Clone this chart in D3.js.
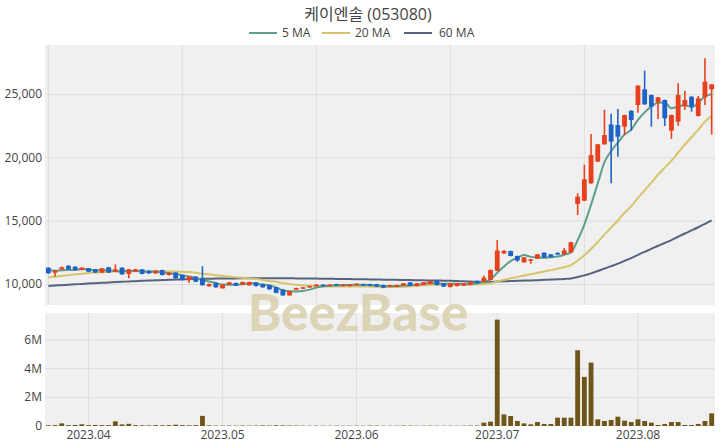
<!DOCTYPE html>
<html><head><meta charset="utf-8">
<script src="https://cdn.jsdelivr.net/npm/d3@7/dist/d3.min.js"></script>
<style>
html,body{margin:0;padding:0;background:#fff;}
svg{display:block;font-family:"Open Sans","Noto Sans","Noto Sans CJK KR",sans-serif;}
</style></head>
<body><div id="chart"></div>
<script>
const title = "케이엔솔 (053080)";
const dates = [
"2023-03-24","2023-03-27","2023-03-28","2023-03-29","2023-03-30","2023-03-31",
"2023-04-03","2023-04-04","2023-04-05","2023-04-06","2023-04-07","2023-04-10","2023-04-11","2023-04-12","2023-04-13","2023-04-14",
"2023-04-17","2023-04-18","2023-04-19","2023-04-20","2023-04-21","2023-04-24","2023-04-25","2023-04-26","2023-04-27","2023-04-28",
"2023-05-02","2023-05-03","2023-05-04","2023-05-08","2023-05-09","2023-05-10","2023-05-11","2023-05-12","2023-05-15","2023-05-16",
"2023-05-17","2023-05-18","2023-05-19","2023-05-22","2023-05-23","2023-05-24","2023-05-25","2023-05-26","2023-05-30","2023-05-31",
"2023-06-01","2023-06-02","2023-06-05","2023-06-07","2023-06-08","2023-06-09","2023-06-12","2023-06-13","2023-06-14","2023-06-15",
"2023-06-16","2023-06-19","2023-06-20","2023-06-21","2023-06-22","2023-06-23","2023-06-26","2023-06-27","2023-06-28","2023-06-29","2023-06-30",
"2023-07-03","2023-07-04","2023-07-05","2023-07-06","2023-07-07","2023-07-10","2023-07-11","2023-07-12","2023-07-13","2023-07-14",
"2023-07-17","2023-07-18","2023-07-19","2023-07-20","2023-07-21","2023-07-24","2023-07-25","2023-07-26","2023-07-27","2023-07-28","2023-07-31",
"2023-08-01","2023-08-02","2023-08-03","2023-08-04","2023-08-07","2023-08-08","2023-08-09","2023-08-10","2023-08-11","2023-08-14","2023-08-16","2023-08-17"
];
const open = [
11290,10890,11160,11450,11370,11110,11240,11160,10900,11320,
10980,11290,10790,10980,11160,11050,10840,11100,10710,10900,
10710,10320,10580,10420,9820,10080,9660,9950,10080,9950,
9900,10130,10000,9900,9740,9550,9100,9550,9660,9740,
9820,9950,9880,9980,9830,9830,9900,9980,9980,9980,
9920,9790,9790,9870,10130,9840,9920,10000,10240,10050,
9760,9840,9870,9920,10240,10180,10320,11050,12420,12600,
12210,11710,11850,12000,12470,12340,12450,12350,12500,16320,
16580,17950,19660,21030,22600,22550,22420,23680,24130,25370,
24920,24340,24530,22110,22820,24050,24790,23260,24740,25370];
const high = [
11320,11100,11380,11470,11400,11320,11260,11190,11260,11350,
11550,11320,11180,11200,11180,11080,11080,11130,10930,10930,
10740,10600,10610,11400,10030,10110,9980,10160,10110,10190,
10190,10160,10030,9930,9770,9580,9450,9710,9770,9870,
9980,9980,9980,10010,9980,9980,10040,10010,10010,10010,
9950,9950,9950,10080,10160,10080,10160,10270,10270,10080,
10080,10080,10080,10160,10270,10660,11150,13470,12680,12630,
12240,12130,11980,12370,12500,12370,12520,12850,13330,17160,
19420,21840,21060,23760,23450,23820,23370,23710,25690,26840,
24950,24770,24560,23370,25840,25260,24820,24840,27820,25790];
const low = [
10800,10600,11120,11130,11080,11080,10940,10870,10870,10870,
10950,10730,10450,10950,10760,10810,10810,10680,10680,10420,
10290,10100,10150,9870,9790,9710,9630,9920,9840,9920,
9870,9810,9710,9550,9270,9070,9070,9520,9630,9710,
9790,9830,9850,9870,9800,9800,9870,9840,9820,9760,
9680,9760,9760,9840,9840,9810,9890,9970,9890,9760,
9730,9810,9840,9890,10020,10150,10290,11000,12370,12180,
11760,11680,11600,11970,12050,12100,12310,12320,12470,15450,
16550,17920,19630,21000,17950,20050,21760,22100,23530,24150,
22420,23030,22470,21450,22500,23740,23600,23230,24130,21800];
const close = [
10850,11050,11320,11160,11110,11290,10970,10900,11240,10900,
11160,10760,11160,11160,10790,10840,11050,10710,10900,10450,
10320,10580,10180,9900,10000,9740,9950,10130,9870,10160,
10160,9840,9740,9580,9300,9100,9420,9680,9740,9840,
9950,9860,9950,9900,9950,9950,10010,9870,9850,9790,
9710,9920,9920,10050,9870,10050,10130,10240,9920,9790,
10050,10050,10050,10130,10050,10500,11100,12650,12600,12210,
11850,12100,11950,12340,12080,12130,12340,12650,13300,16900,
18260,20180,21030,21760,21240,21630,23340,22950,25660,24180,
24000,24740,23080,23340,24920,24530,24000,24660,25970,25760];
const volume = [
50000,60000,180000,60000,70000,120000,60000,70000,60000,60000,
320000,110000,150000,60000,50000,40000,60000,50000,60000,90000,
60000,50000,60000,700000,40000,30000,25000,30000,25000,30000,
25000,30000,40000,30000,50000,40000,35000,30000,25000,20000,
25000,20000,20000,25000,20000,20000,25000,20000,30000,25000,
20000,20000,20000,30000,25000,20000,20000,25000,20000,20000,
20000,20000,25000,30000,30000,230000,300000,7360000,800000,690000,
345000,180000,115000,275000,140000,140000,575000,575000,575000,5240000,
3400000,4390000,460000,345000,414000,644000,368000,275000,460000,345000,
230000,70000,140000,275000,275000,70000,70000,140000,345000,875000];
const ma5 = [
11100,11050,11080,11100,11098,11186,11170,11086,11102,11060,
11034,10992,11044,11028,11006,10942,11000,10910,10858,10790,
10686,10592,10486,10286,10196,10080,9954,9944,9938,9970,
10054,10032,9954,9896,9724,9512,9428,9416,9448,9556,
9726,9814,9868,9900,9922,9922,9952,9936,9926,9894,
9846,9828,9838,9878,9894,9962,10004,10068,10042,10026,
10026,10010,9972,10014,10066,10156,10366,10886,11380,11812,
12082,12282,12142,12090,12064,12120,12168,12308,12500,13464,
14690,16258,17934,19626,20494,21168,21800,22184,22964,23552,
24026,24306,24332,23868,24016,24122,23974,24290,24816,24984];
const ma20 = [
10520,10580,10640,10700,10760,10810,10860,10900,10930,10960,
10980,10990,11000,11000,11000,11000,11000,10995,10990,10989,
10962,10939,10882,10819,10763,10686,10635,10596,10528,10491,
10441,10395,10324,10245,10170,10083,10002,9950,9892,9862,
9843,9807,9796,9796,9793,9804,9807,9794,9793,9774,
9752,9756,9765,9788,9817,9864,9900,9928,9937,9934,
9939,9949,9954,9965,9970,9998,10052,10191,10329,10450,
10557,10666,10767,10882,10992,11096,11207,11327,11496,11852,
12262,12769,13318,13899,14459,15015,15627,16142,16795,17394,
18001,18633,19190,19740,20382,21002,21585,22185,22819,23262];
const ma60 = [
9840,9875,9910,9945,9975,10005,10035,10065,10095,10120,
10150,10175,10200,10225,10250,10270,10290,10310,10330,10350,
10365,10380,10395,10405,10415,10425,10432,10438,10443,10447,
10450,10452,10453,10453,10452,10450,10447,10443,10438,10432,
10425,10418,10410,10402,10394,10386,10378,10370,10362,10353,
10344,10335,10326,10317,10308,10299,10290,10282,10274,10261,
10248,10231,10210,10193,10175,10162,10164,10194,10216,10238,
10250,10272,10285,10305,10326,10348,10369,10402,10442,10549,
10681,10841,11022,11220,11407,11605,11829,12042,12305,12539,
12770,13018,13240,13470,13730,13987,14230,14480,14750,15016];
const priceTicks = [10000, 15000, 20000, 25000];
const volumeTicks = [0, 2000000, 4000000, 6000000];
const monthLabels = ["2023.04","2023.05","2023.06","2023.07","2023.08"];
const maNames = ["5 MA","20 MA","60 MA"];

const W = 720, H = 448;
const L = 45, R = 715;
const pTop = 45, pBot = 305, vTop = 313, vBot = 426;
const colUp = "#e8401c", colDown = "#1f63c6", colVol = "#6e5519";
const maColors = ["#5e9e8a", "#d6c46a", "#58637f"];
const bg = "#f0f0f0", grid = "#dddddd", txt = "#444";

const svg = d3.select("#chart").append("svg").attr("width", W).attr("height", H);
svg.append("rect").attr("width", W).attr("height", H).attr("fill", "#fff");

const x = d3.scaleBand().domain(dates).range([L, R]).padding(0);
const bw = x.bandwidth();
const cx = d => x(d) + bw / 2;
const yP = d3.scaleLinear().domain([8342, 28869]).range([pBot, pTop]);
const yV = d3.scaleLinear().domain([0, 7820000]).range([vBot, vTop]);

// panel backgrounds
svg.append("rect").attr("x", L).attr("y", pTop).attr("width", R - L).attr("height", pBot - pTop).attr("fill", bg);
svg.append("rect").attr("x", L).attr("y", vTop).attr("width", R - L).attr("height", vBot - vTop).attr("fill", bg);

// price grid
const pGridX = dates.filter((d, i) => i % 20 === 0);
svg.append("g").attr("transform", `translate(0,${pBot})`)
  .call(d3.axisBottom(x).tickValues(pGridX).tickSize(-(pBot - pTop)).tickFormat(""))
  .call(g => g.select(".domain").remove())
  .call(g => g.selectAll("line").attr("stroke", grid));
svg.append("g").attr("transform", `translate(${L},0)`)
  .call(d3.axisLeft(yP).tickValues(priceTicks).tickSize(-(R - L)).tickFormat(""))
  .call(g => g.select(".domain").remove())
  .call(g => g.selectAll("line").attr("stroke", grid));

// volume grid
const monthFirst = monthLabels.map(m => dates.find(d => d.slice(0, 7) === m.replace(".", "-")));
svg.append("g").attr("transform", `translate(0,${vBot})`)
  .call(d3.axisBottom(x).tickValues(monthFirst).tickSize(-(vBot - vTop)).tickFormat(""))
  .call(g => g.select(".domain").remove())
  .call(g => g.selectAll("line").attr("stroke", grid));
svg.append("g").attr("transform", `translate(${L},0)`)
  .call(d3.axisLeft(yV).tickValues(volumeTicks.slice(1)).tickSize(-(R - L)).tickFormat(""))
  .call(g => g.select(".domain").remove())
  .call(g => g.selectAll("line").attr("stroke", grid));

// watermark
svg.append("text").attr("x", 358).attr("y", 311)
  .attr("text-anchor", "middle").attr("dominant-baseline", "central")
  .attr("font-family", "Lato, 'Open Sans', sans-serif").attr("font-weight", 900)
  .attr("font-size", 51).attr("fill", "#d8d0ae").attr("opacity", 0.85)
  .text("BeezBase");

// MA lines
[ma60, ma20, ma5].forEach((arr, k) => {
  const ci = 2 - k;
  const line = d3.line().x((v, i) => cx(dates[i])).y(v => yP(v)).curve(d3.curveMonotoneX);
  svg.append("path").attr("d", line(arr)).attr("fill", "none")
    .attr("stroke", maColors[ci]).attr("stroke-width", 2);
});

// candles
const idx = d3.range(dates.length);
const cg = svg.append("g");
cg.selectAll("line.wick").data(idx).join("line")
  .attr("x1", i => cx(dates[i])).attr("x2", i => cx(dates[i]))
  .attr("y1", i => yP(high[i])).attr("y2", i => yP(low[i]))
  .attr("stroke", i => close[i] >= open[i] ? colUp : colDown).attr("stroke-width", 1.6);
cg.selectAll("rect.body").data(idx).join("rect")
  .attr("x", i => cx(dates[i]) - bw * 0.36).attr("width", bw * 0.72)
  .attr("y", i => yP(Math.max(open[i], close[i])))
  .attr("height", i => Math.max(1.5, Math.abs(yP(open[i]) - yP(close[i]))))
  .attr("fill", i => close[i] >= open[i] ? colUp : colDown);

// volume bars
svg.append("g").selectAll("rect").data(idx).join("rect")
  .attr("x", i => cx(dates[i]) - bw * 0.36).attr("width", bw * 0.72)
  .attr("y", i => yV(volume[i])).attr("height", i => vBot - yV(volume[i]))
  .attr("fill", colVol);

// axis labels
svg.append("g").attr("transform", `translate(${L},0)`)
  .call(d3.axisLeft(yP).tickValues(priceTicks).tickSize(0).tickPadding(3).tickFormat(d3.format(",")))
  .call(g => g.select(".domain").remove())
  .call(g => g.selectAll("text").attr("fill", txt).attr("font-size", 12).attr("font-family", "'Open Sans',sans-serif"));
svg.append("g").attr("transform", `translate(${L},0)`)
  .call(d3.axisLeft(yV).tickValues(volumeTicks).tickSize(0).tickPadding(3).tickFormat(d => d === 0 ? "0" : d3.format("~s")(d)))
  .call(g => g.select(".domain").remove())
  .call(g => g.selectAll("text").attr("fill", txt).attr("font-size", 12).attr("font-family", "'Open Sans',sans-serif"));
svg.append("g").attr("transform", `translate(0,${vBot})`)
  .call(d3.axisBottom(x).tickValues(monthFirst).tickSize(0).tickPadding(4).tickFormat((d, i) => monthLabels[i]))
  .call(g => g.select(".domain").remove())
  .call(g => g.selectAll("text").attr("fill", txt).attr("font-size", 12).attr("font-family", "'Open Sans',sans-serif"));

// title
svg.append("text").attr("x", 368).attr("y", 20).attr("text-anchor", "middle")
  .attr("font-size", 16).attr("fill", txt)
  .attr("font-family", "'Open Sans','Noto Sans CJK KR',sans-serif").text(title);

// legend
const legPos = [[249, 282], [322, 355], [404, 439]];
maNames.forEach((n, i) => {
  const [lx, tx] = legPos[i];
  svg.append("line").attr("x1", lx).attr("x2", lx + 28).attr("y1", 33).attr("y2", 33)
    .attr("stroke", maColors[i]).attr("stroke-width", 2);
  svg.append("text").attr("x", tx).attr("y", 37).attr("font-size", 12).attr("fill", txt).text(n);
});
</script></body></html>
